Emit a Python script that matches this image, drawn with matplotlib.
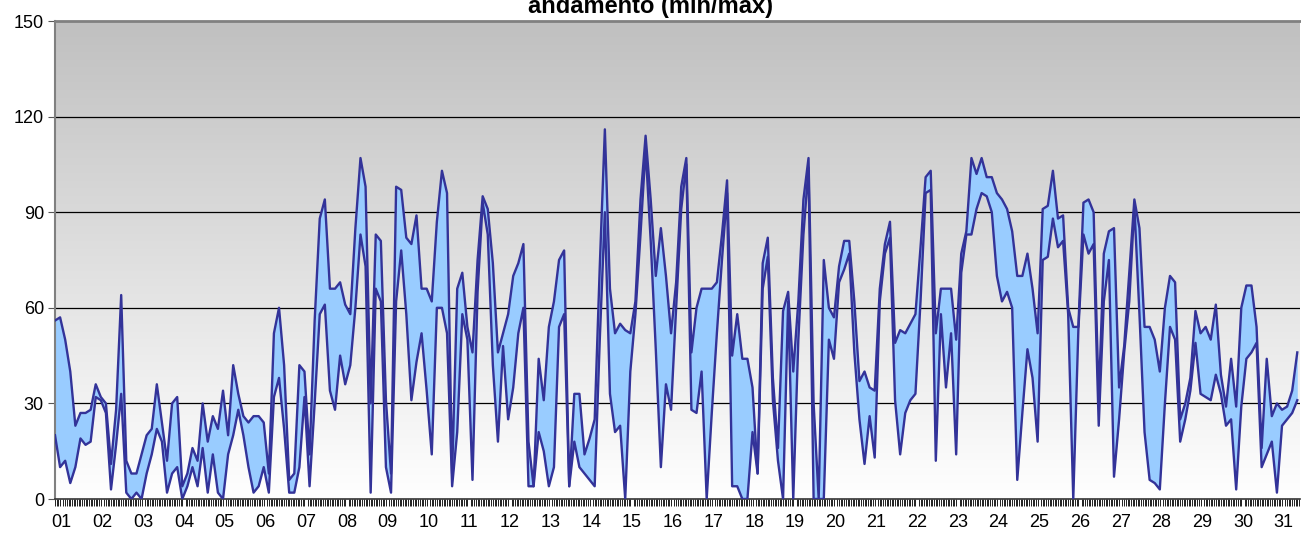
import numpy as np
import matplotlib.pyplot as plt

plt.rcParams['font.family'] = ['Liberation Sans', 'DejaVu Sans']

# readings every 3 hours, 8 per day (day 31 is cut off after 5)
max_vals = [
    56, 57, 50, 40, 23, 27, 27, 28,   # 01
    36, 32, 30, 11, 28, 64, 12, 8,    # 02
    8, 14, 20, 22, 36, 24, 12, 30,    # 03
    32, 4, 8, 16, 12, 30, 18, 26,     # 04
    22, 34, 20, 42, 33, 26, 24, 26,   # 05
    26, 24, 8, 52, 60, 42, 6, 8,      # 06
    42, 40, 14, 56, 88, 94, 66, 66,   # 07
    68, 61, 58, 85, 107, 98, 30, 83,  # 08
    81, 31, 8, 98, 97, 82, 80, 89,    # 09
    66, 66, 62, 87, 103, 96, 8, 66,   # 10
    71, 54, 46, 75, 95, 91, 74, 46,   # 11
    52, 58, 70, 74, 80, 18, 4, 44,    # 12
    31, 54, 62, 75, 78, 4, 33, 33,    # 13
    14, 19, 25, 73, 116, 66, 52, 55,  # 14
    53, 52, 62, 94, 114, 94, 70, 85,  # 15
    70, 52, 68, 98, 107, 46, 60, 66,  # 16
    66, 66, 68, 83, 100, 45, 58, 44,  # 17
    44, 35, 8, 74, 82, 38, 16, 59,    # 18
    65, 40, 62, 94, 107, 30, 0, 75,   # 19
    60, 57, 73, 81, 81, 62, 37, 40,   # 20
    35, 34, 66, 80, 87, 49, 53, 52,   # 21
    55, 58, 79, 101, 103, 52, 66, 66, # 22
    66, 50, 77, 84, 107, 102, 107, 101,  # 23
    101, 96, 94, 91, 84, 70, 70, 77,  # 24
    66, 52, 91, 92, 103, 88, 89, 60,  # 25
    54, 54, 93, 94, 90, 31, 77, 84,   # 26
    85, 35, 48, 71, 94, 85, 54, 54,   # 27
    50, 40, 60, 70, 68, 25, 30, 38,   # 28
    59, 52, 54, 50, 61, 39, 29, 44,   # 29
    29, 60, 67, 67, 54, 16, 44, 26,   # 30
    30, 28, 29, 34, 46,               # 31
]
min_vals = [
    20, 10, 12, 5, 10, 19, 17, 18,    # 01
    32, 31, 27, 3, 17, 33, 2, 0,      # 02
    2, 0, 8, 14, 22, 18, 2, 8,        # 03
    10, 0, 4, 10, 4, 16, 2, 14,       # 04
    2, 0, 14, 20, 28, 20, 10, 2,      # 05
    4, 10, 2, 32, 38, 22, 2, 2,       # 06
    10, 32, 4, 30, 58, 61, 34, 28,    # 07
    45, 36, 42, 60, 83, 73, 2, 66,    # 08
    62, 10, 2, 62, 78, 58, 31, 43,    # 09
    52, 34, 14, 60, 60, 52, 4, 21,    # 10
    58, 50, 6, 65, 93, 83, 42, 18,    # 11
    48, 25, 35, 52, 60, 4, 4, 21,     # 12
    15, 4, 10, 54, 58, 4, 18, 10,     # 13
    8, 6, 4, 50, 90, 33, 21, 23,      # 14
    0, 40, 58, 83, 110, 81, 47, 10,   # 15
    36, 28, 60, 91, 105, 28, 27, 40,  # 16
    0, 27, 52, 75, 96, 4, 4, 0,       # 17
    0, 21, 8, 66, 76, 31, 12, 0,      # 18
    62, 0, 50, 83, 104, 0, 0, 0,      # 19
    50, 44, 68, 72, 77, 46, 25, 11,   # 20
    26, 13, 62, 77, 82, 31, 14, 27,   # 21
    31, 33, 62, 96, 97, 12, 58, 35,   # 22
    52, 14, 71, 83, 83, 91, 96, 95,   # 23
    90, 70, 62, 65, 60, 6, 27, 47,    # 24
    38, 18, 75, 76, 88, 79, 81, 58,   # 25
    0, 53, 83, 77, 80, 23, 62, 75,    # 26
    7, 25, 46, 62, 92, 58, 21, 6,     # 27
    5, 3, 30, 54, 50, 18, 25, 34,     # 28
    49, 33, 32, 31, 39, 33, 23, 25,   # 29
    3, 29, 44, 46, 49, 10, 14, 18,    # 30
    2, 23, 25, 27, 31,                # 31
]
day_labels = ["%02d" % d for d in range(1, 32)]
y_ticks = [0, 30, 60, 90, 120, 150]

hours = np.arange(len(max_vals)) * 3

fig = plt.figure(figsize=(13.01, 5.36), dpi=100)
ax = fig.add_axes([55 / 1301, 1 - 499 / 536, 1245 / 1301, 478 / 536])

x_max = 733.6
# grey (top) to white (bottom) background gradient
grad = np.linspace(192, 255, 256).reshape(-1, 1) / 255
ax.imshow(np.dstack([grad, grad, grad]), extent=[0, x_max, 0, 150],
          aspect="auto", zorder=0, origin="upper")

for y in y_ticks[1:-1]:
    ax.axhline(y, color="black", lw=0.9, zorder=1)

ax.fill_between(hours, min_vals, max_vals, color="#99ccff", lw=0, zorder=2)
ax.plot(hours, max_vals, color="#333399", lw=1.7, zorder=3)
ax.plot(hours, min_vals, color="#333399", lw=1.7, zorder=3)

ax.set_xlim(0, x_max)
ax.set_ylim(0, 150)
ax.set_yticks(y_ticks)
ax.set_xticks(4 + 24 * np.arange(31))
ax.set_xticklabels(day_labels)
ax.set_xticks(np.arange(0, 734, 1), minor=True)
ax.tick_params(axis="x", which="major", length=0, pad=11, labelsize=13)
ax.tick_params(axis="x", which="minor", length=5, width=0.7, color="#222222")
ax.tick_params(axis="y", length=5, width=0.8, labelsize=13, color="#555555",
               pad=3)

ax.spines["top"].set_color("#808080")
ax.spines["top"].set_linewidth(2)
ax.spines["right"].set_visible(False)
ax.spines["left"].set_color("#808080")
ax.spines["left"].set_linewidth(1.5)
ax.spines["bottom"].set_color("#333333")
ax.spines["bottom"].set_linewidth(1.2)

fig.text(0.5, 1 - 13 / 536, "andamento (min/max)", ha="center", va="baseline",
         fontsize=17, fontweight="bold")

fig.savefig("out.png", dpi=100)
